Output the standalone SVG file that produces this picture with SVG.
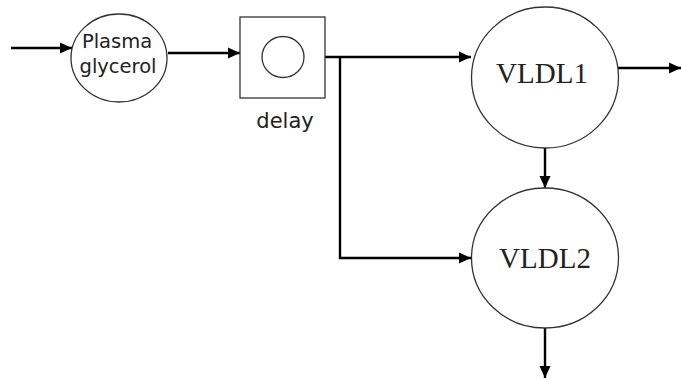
<svg xmlns="http://www.w3.org/2000/svg" width="681" height="381" viewBox="0 0 681 381">
  <style>
    .node { fill: #ffffff; stroke: #333333; stroke-width: 1.3; }
    .edge { fill: none; stroke: #000000; stroke-width: 2.4; }
    .sans { font-family: "DejaVu Sans", Verdana, sans-serif; fill: #222222; text-anchor: middle; }
    .serif { font-family: "Liberation Serif", "Times New Roman", serif; fill: #222222; text-anchor: middle; }
  </style>
  <defs>
    <marker id="arrow" markerUnits="userSpaceOnUse" markerWidth="12" markerHeight="12" viewBox="0 0 12 12" refX="12" refY="6" orient="auto">
      <path d="M0,0.5 L12,6 L0,11.5 Z" fill="#000000"/>
    </marker>
  </defs>
  <rect width="681" height="381" fill="#ffffff"/>

  <g id="connectors">
    <line class="edge" x1="11" y1="48" x2="72" y2="48" marker-end="url(#arrow)"/>
    <line class="edge" x1="168" y1="53" x2="240" y2="53" marker-end="url(#arrow)"/>
    <line class="edge" x1="325" y1="57" x2="471" y2="57" marker-end="url(#arrow)"/>
    <polyline class="edge" points="340,57 340,258 471,258" marker-end="url(#arrow)"/>
    <line class="edge" x1="545" y1="148" x2="545" y2="188" marker-end="url(#arrow)"/>
    <line class="edge" x1="618" y1="68" x2="681" y2="68" marker-end="url(#arrow)"/>
    <line class="edge" x1="545" y1="328" x2="545" y2="378" marker-end="url(#arrow)"/>
  </g>

  <g id="plasma-glycerol">
    <ellipse class="node" cx="119" cy="58" rx="48" ry="44"/>
    <text class="sans" x="117" y="48" font-size="19.5">Plasma</text>
    <text class="sans" x="118" y="73" font-size="19.5">glycerol</text>
  </g>

  <g id="delay">
    <rect class="node" x="240" y="17" width="85" height="81"/>
    <ellipse class="node" cx="283" cy="57" rx="21" ry="20.5"/>
    <text class="sans" x="285" y="128" font-size="21">delay</text>
  </g>

  <g id="vldl1">
    <ellipse class="node" cx="545" cy="77.5" rx="73.5" ry="70.5"/>
    <text class="serif" x="542" y="83" font-size="29">VLDL1</text>
  </g>

  <g id="vldl2">
    <ellipse class="node" cx="545" cy="258" rx="73.5" ry="70"/>
    <text class="serif" x="545" y="268" font-size="29">VLDL2</text>
  </g>
</svg>
